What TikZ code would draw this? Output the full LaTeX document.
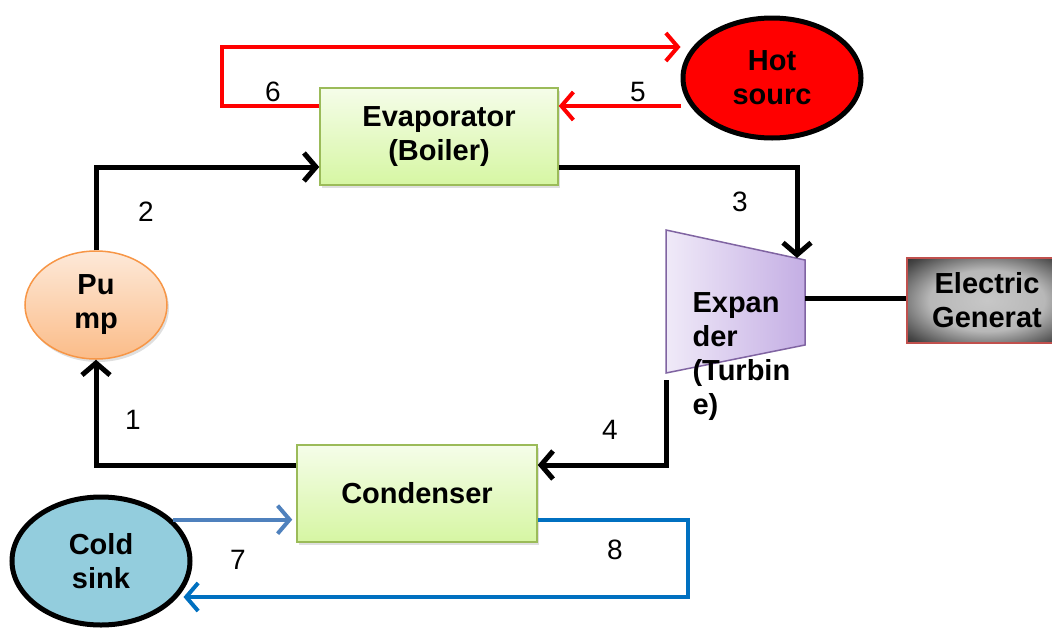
\documentclass[tikz,border=0pt]{standalone}
\usepackage{fontspec}
\setmainfont{Liberation Sans}
\usetikzlibrary{arrows.meta,shadows,shapes.geometric}
\definecolor{boxtop}{HTML}{F5FDE9}
\definecolor{boxbot}{HTML}{D6F6A3}
\definecolor{boxedge}{HTML}{9BBB59}
\definecolor{pumptop}{HTML}{FDE9D9}
\definecolor{pumpbot}{HTML}{FBBC88}
\definecolor{pumpedge}{HTML}{F79646}
\definecolor{sinkfill}{HTML}{93CDDD}
\definecolor{expleft}{HTML}{F0EAF8}
\definecolor{expright}{HTML}{C4AEE4}
\definecolor{expedge}{HTML}{8064A2}
\definecolor{genedge}{HTML}{C0504D}
\definecolor{coolin}{HTML}{4F81BD}
\definecolor{coolout}{HTML}{0070C0}
\pgfdeclareradialshading{genglow}{\pgfpoint{0bp}{0bp}}{%
  color(0bp)=(black!22); color(18bp)=(black!28); color(32bp)=(black!72);
  color(44bp)=(black); color(50bp)=(black)}
\begin{document}
\begin{tikzpicture}[x=1pt, y=-1pt,
    every node/.style={font=\fontsize{29}{34}\selectfont\bfseries},
    unit/.style={draw=boxedge, line width=1.5pt, top color=boxtop, bottom color=boxbot,
      minimum width=238pt, minimum height=97pt, inner sep=0pt, align=center,
      drop shadow={opacity=0.25, shadow xshift=2pt, shadow yshift=-3pt}},
    source/.style={ellipse, draw=black, line width=5pt, inner sep=0pt, align=center},
    num/.style={font=\fontsize{28}{30}\selectfont},
    tip/.style={-{Straight Barb[length=12pt, width=28pt]}},
    flow/.style={line width=5pt, tip},
    hotline/.style={draw=red, line width=4pt, tip},
    coldline/.style={line width=4pt, tip}]
  \useasboundingbox (0,0) rectangle (1052,627);

  % units
  \node[unit] (evap) at (439,136.5) {Evaporator\\(Boiler)};
  \node[unit, minimum width=240pt] (cond) at (417,493.5) {Condenser};
  \node[source, fill=red, minimum width=178pt, minimum height=120pt] (hot) at (772,78) {Hot\\sourc};
  \node[source, fill=sinkfill, minimum width=178pt, minimum height=128pt] (cold) at (101,561) {Cold\\sink};
  \node[ellipse, draw=pumpedge, line width=1.5pt, top color=pumptop, bottom color=pumpbot,
    minimum width=142pt, minimum height=108pt, inner sep=0pt, align=center,
    drop shadow={opacity=0.25, shadow xshift=2pt, shadow yshift=-3pt}] (pump) at (96,305) {Pu\\mp};
  \node[draw=genedge, line width=2pt, shading=genglow,
    minimum width=160pt, minimum height=85pt, inner sep=0pt, align=center] (gen) at (987,300.5) {Electric\\Generat};

  % expander
  \draw[draw=expedge, line width=1.5pt, left color=expleft, right color=expright]
    (666,230) -- (805,260) -- (805,345) -- (666,373) -- cycle;
  \coordinate (exptop) at (797,258);
  \coordinate (expshaft) at (805,298);
  \coordinate (expout) at (666,380);
  \node[anchor=west, align=left] (exptext) at (689,356.5) {Expan\\der\\(Turbin\\e)};

  % working fluid
  \draw[flow] (pump.north) |- ([yshift=-30.5pt]evap.west);
  \draw[flow] ([yshift=-30.5pt]evap.east) -| (exptop);
  \draw[line width=5pt] (expshaft) -- (expshaft -| gen.west);
  \draw[flow] (expout) |- ([yshift=28.5pt]cond.east);
  \draw[flow] ([yshift=28.5pt]cond.west) -| (pump.south);

  % hot source loop
  \coordinate (hotloop) at (222,47);
  \draw[hotline] ([yshift=-28pt]hot.west) -- ([yshift=30.5pt]evap.east);
  \draw[hotline] ([yshift=30.5pt]evap.west) -| (hotloop) -- ([yshift=31pt]hot.west);

  % cold sink loop
  \coordinate (coldloop) at (688,597);
  \draw[coldline, draw=coolin] (cold.30) -- ([xshift=-4pt]cold.30 -| cond.west);
  \draw[coldline, draw=coolout] ([yshift=-26.5pt]cond.east) -| (coldloop) -- ([xshift=-9pt]coldloop -| cold.east);

  % state points
  \node[num] (n1) at (133,420) {1};
  \node[num] (n2) at (146,212) {2};
  \node[num] (n3) at (740,202) {3};
  \node[num] (n4) at (610,430) {4};
  \node[num] (n5) at (638,92) {5};
  \node[num] (n6) at (273,92) {6};
  \node[num] (n7) at (238,560) {7};
  \node[num] (n8) at (615,550) {8};
\end{tikzpicture}
\end{document}
